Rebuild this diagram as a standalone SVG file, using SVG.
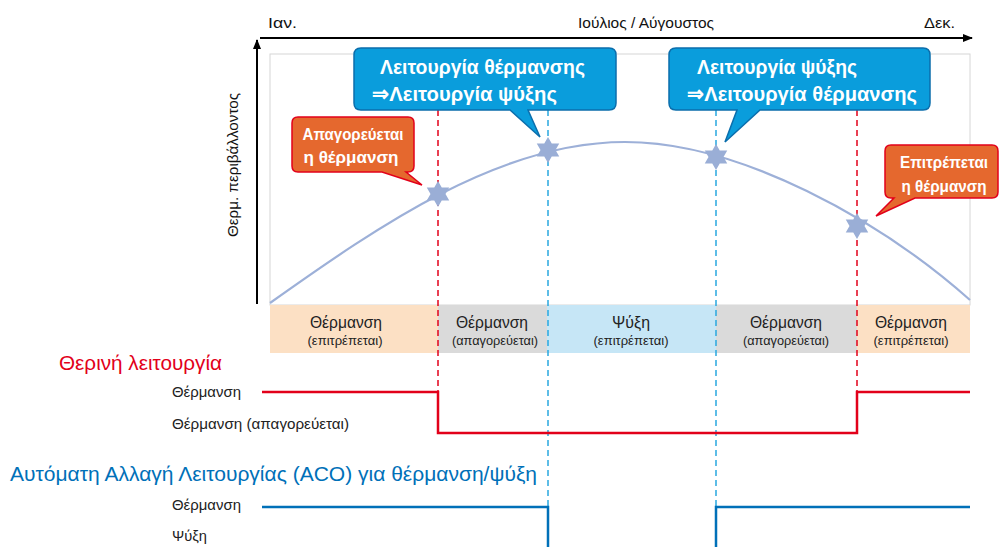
<svg xmlns="http://www.w3.org/2000/svg" width="1000" height="547" viewBox="0 0 1000 547">
<defs>
<marker id="arr" markerWidth="10" markerHeight="8" refX="9" refY="4" orient="auto" markerUnits="userSpaceOnUse">
<path d="M0,0 L10,4 L0,8 Z" fill="#000"/>
</marker>
<path id="star" d="M0,-13 L3.75,-6.5 L11.26,-6.5 L7.5,0 L11.26,6.5 L3.75,6.5 L0,13 L-3.75,6.5 L-11.26,6.5 L-7.5,0 L-11.26,-6.5 L-3.75,-6.5 Z"/>
</defs>
<style>
text{font-family:"Liberation Sans",Arial,sans-serif;}
.ax{font-size:15px;fill:#111;}
.bt{font-size:16px;fill:#222;text-anchor:middle;}
.bs{font-size:13px;fill:#222;text-anchor:middle;}
.lb{font-size:15px;fill:#222;}
.co{font-size:21px;font-weight:bold;fill:#fff;}
.oc{font-size:16.5px;font-weight:bold;fill:#fff;}
.blue{fill:#0a9ddc;stroke:#0b6eac;stroke-width:1.5;}
.orng{fill:#e5682e;stroke:#e2001a;stroke-width:1.5;}
.dr{stroke:#e2001a;stroke-width:1.5;stroke-dasharray:6,4;fill:none;}
.db{stroke:#29a8e0;stroke-width:1.5;stroke-dasharray:6,4;fill:none;}
.st{fill:#9aaed6;}
</style>

<g id="axes">
<line x1="260" y1="38" x2="972" y2="38" stroke="#000" stroke-width="2" marker-end="url(#arr)"/>
<line x1="257" y1="304" x2="257" y2="40" stroke="#000" stroke-width="2" marker-end="url(#arr)"/>
<text class="ax" x="268" y="28" textLength="29" lengthAdjust="spacingAndGlyphs">Ιαν.</text>
<text class="ax" x="646" y="28" text-anchor="middle" textLength="136" lengthAdjust="spacingAndGlyphs">Ιούλιος / Αύγουστος</text>
<text class="ax" x="955" y="28" text-anchor="end" textLength="31" lengthAdjust="spacingAndGlyphs">Δεκ.</text>
<text class="ax" transform="translate(238,165) rotate(-90)" text-anchor="middle" textLength="144" lengthAdjust="spacingAndGlyphs">Θερμ. περιβάλλοντος</text>
</g>

<g id="plot">
<rect x="270" y="54" width="700" height="251" fill="#fff" stroke="#d6d6d6" stroke-width="1"/>
</g>

<g id="bands">
<rect x="270" y="305" width="168" height="48" fill="#fce0c4"/>
<rect x="438" y="305" width="109" height="48" fill="#dadada"/>
<rect x="547" y="305" width="169" height="48" fill="#c6e6f6"/>
<rect x="716" y="305" width="141" height="48" fill="#dadada"/>
<rect x="857" y="305" width="113" height="48" fill="#fce0c4"/>
<text class="bt" x="346" y="328" textLength="72" lengthAdjust="spacingAndGlyphs">Θέρμανση</text>
<text class="bs" x="345" y="345" textLength="75" lengthAdjust="spacingAndGlyphs">(επιτρέπεται)</text>
<text class="bt" x="492" y="328" textLength="72" lengthAdjust="spacingAndGlyphs">Θέρμανση</text>
<text class="bs" x="495" y="345" textLength="86" lengthAdjust="spacingAndGlyphs">(απαγορεύεται)</text>
<text class="bt" x="631" y="328" textLength="38" lengthAdjust="spacingAndGlyphs">Ψύξη</text>
<text class="bs" x="631" y="345" textLength="75" lengthAdjust="spacingAndGlyphs">(επιτρέπεται)</text>
<text class="bt" x="786" y="328" textLength="72" lengthAdjust="spacingAndGlyphs">Θέρμανση</text>
<text class="bs" x="786" y="345" textLength="86" lengthAdjust="spacingAndGlyphs">(απαγορεύεται)</text>
<text class="bt" x="911" y="328" textLength="72" lengthAdjust="spacingAndGlyphs">Θέρμανση</text>
<text class="bs" x="911" y="345" textLength="75" lengthAdjust="spacingAndGlyphs">(επιτρέπεται)</text>
</g>

<g id="connectors">
<line class="dr" x1="438" y1="110" x2="438" y2="432"/>
<line class="dr" x1="857" y1="110" x2="857" y2="392"/>
<line class="db" x1="548" y1="110" x2="548" y2="506"/>
<line class="db" x1="716" y1="110" x2="716" y2="506"/>
<path d="M270,303 C380,225 500,142 625,142 C740,142 880,220 970,300" fill="none" stroke="#9db0d8" stroke-width="2.2"/>
<path d="M262,392 H438 V433 H857 V392 H970" fill="none" stroke="#e2001a" stroke-width="2.5"/>
<path d="M262,507 H548 V547" fill="none" stroke="#0070b8" stroke-width="2.5"/>
<path d="M716,547 V507 H970" fill="none" stroke="#0070b8" stroke-width="2.5"/>
</g>

<g id="stars">
<use href="#star" class="st" x="438" y="194"/>
<use href="#star" class="st" x="548" y="150"/>
<use href="#star" class="st" x="716" y="157"/>
<use href="#star" class="st" x="857" y="226"/>
</g>

<g id="callout-heat-to-cool">
<path class="blue" d="M361,48 H609 Q616,48 616,55 V103 Q616,110 609,110 H528 L540,137 L510,110 H361 Q354,110 354,103 V55 Q354,48 361,48 Z"/>
<text class="co" x="380" y="74" textLength="205" lengthAdjust="spacingAndGlyphs">Λειτουργία θέρμανσης</text>
<text class="co" x="372" y="101" textLength="185" lengthAdjust="spacingAndGlyphs">⇒Λειτουργία ψύξης</text>
</g>

<g id="callout-cool-to-heat">
<path class="blue" d="M676,48 H923 Q930,48 930,55 V103 Q930,110 923,110 H760 L725,142 L737,110 H676 Q669,110 669,103 V55 Q669,48 676,48 Z"/>
<text class="co" x="697" y="74" textLength="160" lengthAdjust="spacingAndGlyphs">Λειτουργία ψύξης</text>
<text class="co" x="687" y="101" textLength="230" lengthAdjust="spacingAndGlyphs">⇒Λειτουργία θέρμανσης</text>
</g>

<g id="callout-heat-prohibited">
<path class="orng" d="M298,117 H408 Q414,117 414,123 V166 Q414,172 408,172 H406 L422,185 L382,172 H298 Q292,172 292,166 V123 Q292,117 298,117 Z"/>
<text class="oc" x="353" y="140" text-anchor="middle" textLength="101" lengthAdjust="spacingAndGlyphs">Απαγορεύεται</text>
<text class="oc" x="351" y="163" text-anchor="middle" textLength="95" lengthAdjust="spacingAndGlyphs">η θέρμανση</text>
</g>

<g id="callout-heat-allowed">
<path class="orng" d="M891,145 H992 Q998,145 998,151 V192 Q998,198 992,198 H915 L876,216 L894,198 H891 Q885,198 885,192 V151 Q885,145 891,145 Z"/>
<text class="oc" x="944" y="168" text-anchor="middle" textLength="88" lengthAdjust="spacingAndGlyphs">Επιτρέπεται</text>
<text class="oc" x="944" y="192" text-anchor="middle" textLength="85" lengthAdjust="spacingAndGlyphs">η θέρμανση</text>
</g>

<g id="summer-mode">
<text x="59" y="370" font-size="21" fill="#e2001a" textLength="163" lengthAdjust="spacingAndGlyphs">Θερινή λειτουργία</text>
<text class="lb" x="172" y="397" textLength="69" lengthAdjust="spacingAndGlyphs">Θέρμανση</text>
<text class="lb" x="172" y="429" textLength="177" lengthAdjust="spacingAndGlyphs">Θέρμανση (απαγορεύεται)</text>
</g>

<g id="aco-mode">
<text x="10" y="481" font-size="21" fill="#0070b8" textLength="527" lengthAdjust="spacingAndGlyphs">Αυτόματη Αλλαγή Λειτουργίας (ACO) για θέρμανση/ψύξη</text>
<text class="lb" x="172" y="510" textLength="69" lengthAdjust="spacingAndGlyphs">Θέρμανση</text>
<text class="lb" x="172" y="541" textLength="35" lengthAdjust="spacingAndGlyphs">Ψύξη</text>
</g>
</svg>
